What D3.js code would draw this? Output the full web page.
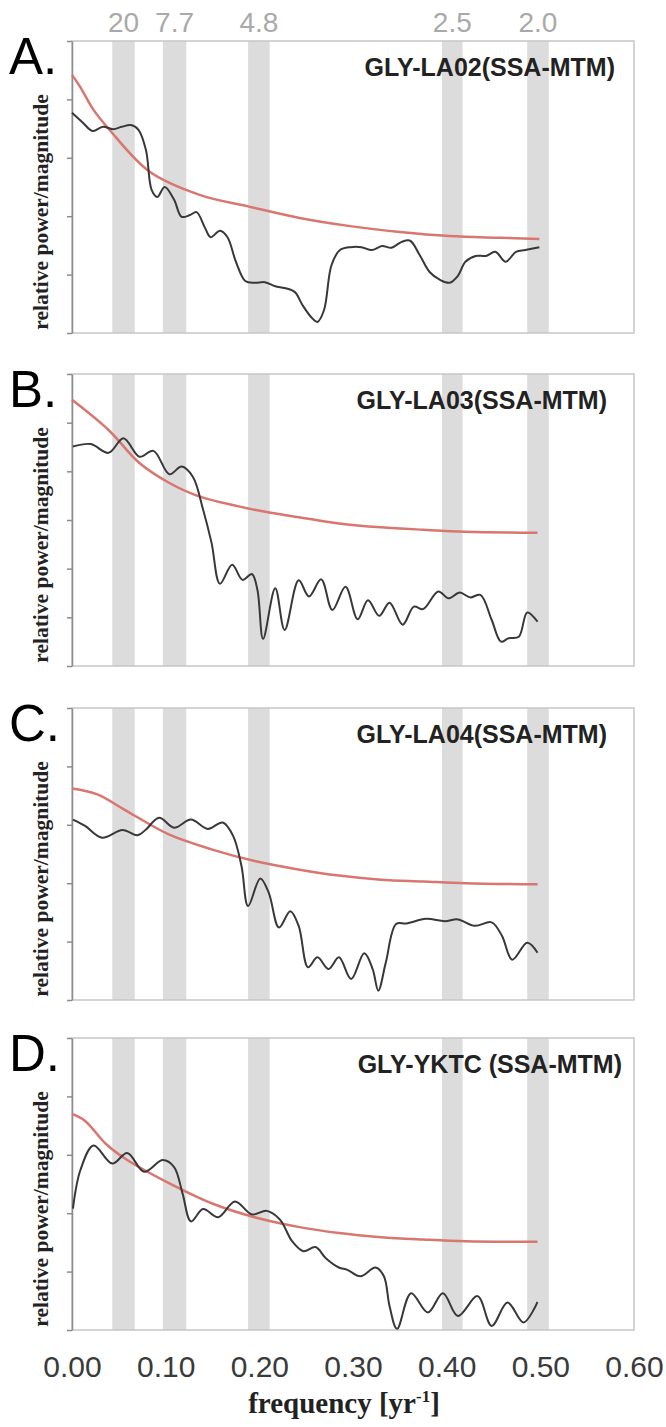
<!DOCTYPE html>
<html>
<head>
<meta charset="utf-8">
<script src="https://cdn.jsdelivr.net/npm/d3@7"></script>
<style>
  body { margin: 0; background: #fff; }
  svg { display: block; }
</style>
</head>
<body>
<div id="chart"></div>
<script>
// panel labels and titles
let panelLetters = ["A.", "B.", "C.", "D."];
let panelTitles = ["GLY-LA02(SSA-MTM)", "GLY-LA03(SSA-MTM)", "GLY-LA04(SSA-MTM)", "GLY-YKTC (SSA-MTM)"];
let panelYMax = [5, 6, 5, 5];

// period bands (years) shown as grey stripes
let bandLabels = ["20", "7.7", "4.8", "2.5", "2.0"];
let bandFreqs = [[0.043, 0.067], [0.097, 0.122], [0.188, 0.211], [0.395, 0.417], [0.486, 0.509]];

let xTicks = [0, 0.1, 0.2, 0.3, 0.4, 0.5, 0.6];

// spectra [frequency, relative power]
let la02Spectrum = [[0,3.77],[0.011,3.61],[0.022,3.46],[0.033,3.53],[0.044,3.49],[0.053,3.53],[0.063,3.56],[0.071,3.48],
  [0.079,3.13],[0.085,2.45],[0.091,2.33],[0.099,2.5],[0.109,2.28],[0.117,1.99],[0.126,2.02],[0.133,2.07],[0.142,1.8],
  [0.148,1.64],[0.158,1.75],[0.166,1.64],[0.175,1.22],[0.185,0.89],[0.195,0.86],[0.206,0.87],[0.217,0.8],[0.227,0.77],
  [0.238,0.7],[0.246,0.48],[0.256,0.26],[0.262,0.19],[0.269,0.39],[0.277,1.16],[0.286,1.42],[0.297,1.47],[0.309,1.47],
  [0.32,1.42],[0.331,1.49],[0.341,1.46],[0.352,1.56],[0.361,1.58],[0.371,1.34],[0.382,1.04],[0.393,0.91],[0.403,0.86],
  [0.412,0.98],[0.42,1.22],[0.431,1.32],[0.442,1.32],[0.452,1.39],[0.463,1.22],[0.474,1.39],[0.484,1.42],[0.499,1.47]];
let la02Noise = [[0,4.42],[0.0085,4.22],[0.023,3.82],[0.04,3.48],[0.083,2.76],[0.137,2.36],[0.19,2.16],[0.243,1.97],
  [0.297,1.83],[0.35,1.73],[0.403,1.66],[0.457,1.63],[0.499,1.61]];

let la03Spectrum = [[0.001,4.51],[0.02,4.56],[0.039,4.38],[0.055,4.68],[0.072,4.3],[0.087,4.42],[0.104,3.94],[0.117,4.1],
  [0.129,3.89],[0.14,3.21],[0.149,2.53],[0.158,1.69],[0.171,2.08],[0.182,1.77],[0.192,1.89],[0.198,1.56],[0.204,0.56],
  [0.217,1.6],[0.227,0.74],[0.242,1.76],[0.253,1.43],[0.266,1.78],[0.278,1.15],[0.292,1.63],[0.305,0.96],[0.316,1.35],
  [0.328,1.03],[0.339,1.3],[0.353,0.85],[0.365,1.22],[0.375,1.17],[0.391,1.53],[0.402,1.39],[0.414,1.51],[0.425,1.41],
  [0.436,1.46],[0.448,0.95],[0.458,0.5],[0.466,0.57],[0.477,0.6],[0.486,1.1],[0.497,0.91]];
let la03Noise = [[0,5.47],[0.039,4.85],[0.072,4.17],[0.104,3.76],[0.135,3.49],[0.195,3.21],[0.24,3.06],[0.285,2.93],
  [0.33,2.85],[0.375,2.8],[0.42,2.76],[0.497,2.74]];

let la04Spectrum = [[0.001,3.09],[0.014,2.98],[0.032,2.78],[0.054,2.91],[0.07,2.82],[0.079,2.92],[0.093,3.12],[0.109,2.95],
  [0.127,3.09],[0.145,2.93],[0.161,3.04],[0.172,2.81],[0.181,2.29],[0.188,1.61],[0.201,2.08],[0.21,1.84],[0.221,1.24],
  [0.233,1.52],[0.242,1.27],[0.252,0.56],[0.262,0.73],[0.274,0.53],[0.285,0.73],[0.298,0.36],[0.312,0.8],[0.321,0.53],
  [0.327,0.16],[0.335,0.64],[0.346,1.3],[0.357,1.31],[0.378,1.39],[0.398,1.35],[0.412,1.38],[0.43,1.27],[0.448,1.33],
  [0.459,1.1],[0.47,0.69],[0.486,0.98],[0.497,0.81]];
let la04Noise = [[0,3.62],[0.027,3.52],[0.059,3.23],[0.104,2.83],[0.149,2.58],[0.195,2.38],[0.24,2.24],[0.285,2.13],
  [0.33,2.06],[0.375,2.03],[0.42,2.0],[0.497,1.98]];

let yktcSpectrum = [[0.001,2.08],[0.009,2.74],[0.023,3.16],[0.043,2.85],[0.059,3.03],[0.077,2.71],[0.097,2.91],[0.109,2.79],
  [0.118,2.34],[0.127,1.86],[0.14,2.07],[0.156,1.93],[0.174,2.2],[0.192,1.98],[0.208,2.04],[0.222,1.89],[0.235,1.52],
  [0.247,1.35],[0.26,1.42],[0.271,1.23],[0.285,1.07],[0.294,1.03],[0.308,0.92],[0.324,1.07],[0.333,0.92],[0.339,0.41],
  [0.347,0.02],[0.362,0.63],[0.38,0.3],[0.396,0.63],[0.412,0.24],[0.433,0.58],[0.448,0.07],[0.465,0.47],[0.482,0.13],
  [0.497,0.48]];
let yktcNoise = [[0,3.7],[0.014,3.58],[0.036,3.19],[0.059,2.91],[0.104,2.51],[0.149,2.17],[0.195,1.93],[0.24,1.77],
  [0.285,1.66],[0.33,1.59],[0.375,1.55],[0.42,1.52],[0.497,1.51]];

let spectra = [la02Spectrum, la03Spectrum, la04Spectrum, yktcSpectrum];
let noises = [la02Noise, la03Noise, la04Noise, yktcNoise];

// layout
let svgWidth = 666;
let svgHeight = 1427;
let panelTops = [41, 374, 708, 1038];
let panelHeight = 292;
let plotLeft = 72;
let plotRight = 634;

let svg = d3.select("#chart")
            .append("svg")
            .attr("width", svgWidth)
            .attr("height", svgHeight);

svg.append("rect").attr("width", svgWidth).attr("height", svgHeight).attr("fill", "#fff");

let xScale = d3.scaleLinear().domain([0, 0.6]).range([plotLeft, plotRight]);

let line = (y) => d3.line()
    .x(d => xScale(d[0]))
    .y(d => y(d[1]))
    .curve(d3.curveCatmullRom.alpha(0.5));

panelTops.forEach(function(top, i) {
    let yScale = d3.scaleLinear().domain([0, panelYMax[i]]).range([top + panelHeight, top]);
    let g = svg.append("g");

    // grey period bands
    g.selectAll(".band")
      .data(bandFreqs)
      .enter()
      .append("rect")
      .attr("x", d => xScale(d[0]))
      .attr("width", d => xScale(d[1]) - xScale(d[0]))
      .attr("y", top)
      .attr("height", panelHeight)
      .attr("fill", "#dcdcdc");

    // frame
    g.append("rect")
      .attr("x", plotLeft)
      .attr("y", top)
      .attr("width", plotRight - plotLeft)
      .attr("height", panelHeight)
      .attr("fill", "none")
      .attr("stroke", "#c6c6c6")
      .attr("stroke-width", 1.5);

    // left axis, ticks only
    let leftAxis = d3.axisLeft(yScale)
        .tickValues(d3.range(0, panelYMax[i] + 1))
        .tickSize(5)
        .tickSizeOuter(0)
        .tickFormat("");
    let ax = g.append("g")
      .attr("transform", `translate(${plotLeft}, 0)`)
      .call(leftAxis);
    ax.select(".domain").attr("stroke", "#8c8c8c").attr("stroke-width", 1.5);
    ax.selectAll(".tick line").attr("stroke", "#8c8c8c").attr("stroke-width", 1.5);

    // red noise curve
    g.append("path")
      .datum(noises[i])
      .attr("d", line(yScale))
      .attr("fill", "none")
      .attr("stroke", "#d8766f")
      .attr("stroke-width", 2.5);

    // spectrum
    g.append("path")
      .datum(spectra[i])
      .attr("d", line(yScale))
      .attr("fill", "none")
      .attr("stroke", "#383838")
      .attr("stroke-width", 2);

    // title
    g.append("text")
      .attr("x", i === 3 ? 622 : (i === 0 ? 615 : 607))
      .attr("y", top + 35)
      .attr("text-anchor", "end")
      .attr("font-family", "Liberation Sans, Arial, sans-serif")
      .attr("font-weight", "bold")
      .attr("font-size", "25px")
      .attr("fill", "#222")
      .text(panelTitles[i]);

    // panel letter
    g.append("text")
      .attr("x", 9)
      .attr("y", top + 33)
      .attr("font-family", "Liberation Sans, Arial, sans-serif")
      .attr("font-size", "51px")
      .attr("fill", "#000")
      .text(panelLetters[i]);

    // y label
    g.append("text")
      .attr("transform", `translate(48, ${top + panelHeight / 2 + 25}) rotate(-90)`)
      .attr("text-anchor", "middle")
      .attr("font-family", "Liberation Serif, Times New Roman, serif")
      .attr("font-weight", "bold")
      .attr("font-size", "21.5px")
      .attr("fill", "#222")
      .text("relative power/magnitude");
});

// period labels above first panel
svg.selectAll(".period")
  .data(bandLabels)
  .enter()
  .append("text")
  .attr("x", (d, i) => xScale((bandFreqs[i][0] + bandFreqs[i][1]) / 2))
  .attr("y", 32)
  .attr("text-anchor", "middle")
  .attr("font-family", "Liberation Sans, Arial, sans-serif")
  .attr("font-size", "28px")
  .attr("fill", "#a9a9a9")
  .text(d => d);

// bottom axis under last panel
let bottomY = panelTops[3] + panelHeight;
let bottomAxis = d3.axisBottom(xScale)
    .tickValues(xTicks)
    .tickSize(0)
    .tickPadding(26)
    .tickFormat(d3.format(".2f"));
let bx = svg.append("g")
  .attr("transform", `translate(0, ${bottomY})`)
  .call(bottomAxis);
bx.select(".domain").remove();
bx.selectAll("text")
  .attr("font-family", "Liberation Sans, Arial, sans-serif")
  .attr("font-size", "30px")
  .attr("fill", "#3a3a3a");

let xLabel = svg.append("text")
  .attr("x", 344)
  .attr("y", 1413)
  .attr("text-anchor", "middle")
  .attr("font-family", "Liberation Serif, Times New Roman, serif")
  .attr("font-weight", "bold")
  .attr("font-size", "29px")
  .attr("fill", "#222");
xLabel.append("tspan").text("frequency [yr");
xLabel.append("tspan").attr("font-size", "17px").attr("dy", "-11").text("-1");
xLabel.append("tspan").attr("dy", "11").text("]");
</script>
</body>
</html>
